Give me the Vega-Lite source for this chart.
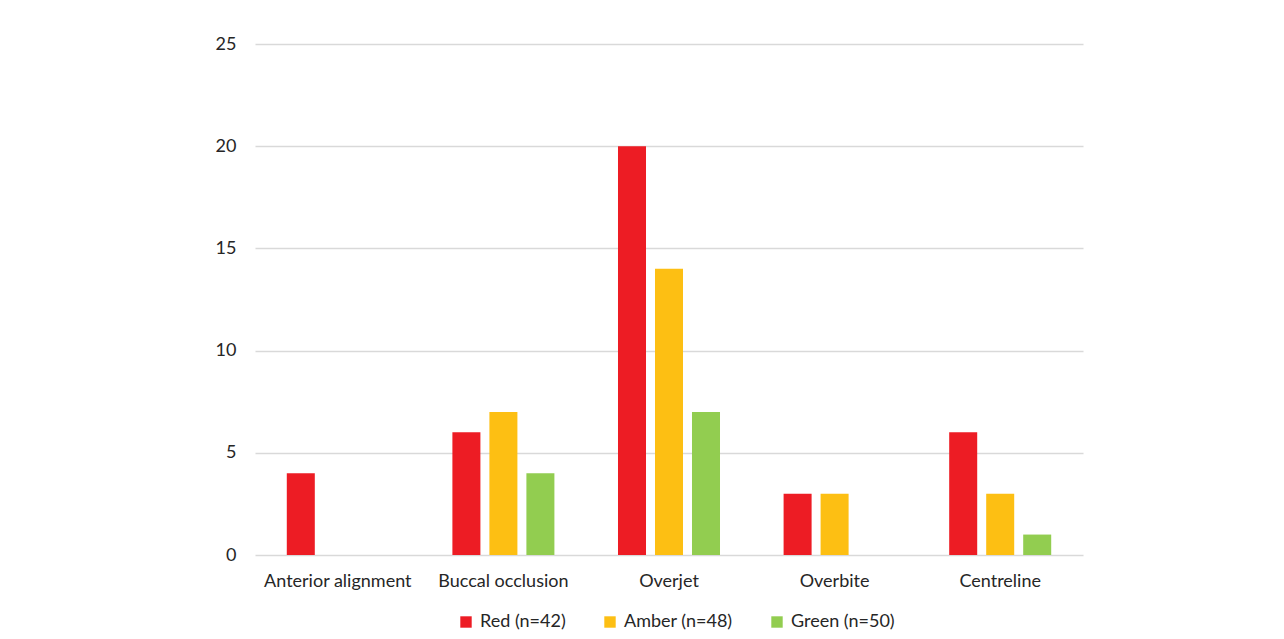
{
  "$schema": "https://vega.github.io/schema/vega-lite/v6.json",
  "width": 828,
  "height": 511,
  "autosize": {"type": "none"},
  "padding": {"left": 255, "top": 44, "right": 201, "bottom": 84},
  "background": "white",
  "config": {
    "view": {"stroke": null},
    "font": "Lato",
    "axis": {"labelFont": "Lato", "labelColor": "#262626", "labelFontSize": 18}
  },
  "data": {
    "values": [
      {"category": "Anterior alignment", "group": "Red (n=42)", "count": 4},
      {"category": "Anterior alignment", "group": "Amber (n=48)", "count": 0},
      {"category": "Anterior alignment", "group": "Green (n=50)", "count": 0},
      {"category": "Buccal occlusion", "group": "Red (n=42)", "count": 6},
      {"category": "Buccal occlusion", "group": "Amber (n=48)", "count": 7},
      {"category": "Buccal occlusion", "group": "Green (n=50)", "count": 4},
      {"category": "Overjet", "group": "Red (n=42)", "count": 20},
      {"category": "Overjet", "group": "Amber (n=48)", "count": 14},
      {"category": "Overjet", "group": "Green (n=50)", "count": 7},
      {"category": "Overbite", "group": "Red (n=42)", "count": 3},
      {"category": "Overbite", "group": "Amber (n=48)", "count": 3},
      {"category": "Overbite", "group": "Green (n=50)", "count": 0},
      {"category": "Centreline", "group": "Red (n=42)", "count": 6},
      {"category": "Centreline", "group": "Amber (n=48)", "count": 3},
      {"category": "Centreline", "group": "Green (n=50)", "count": 1}
    ]
  },
  "mark": {"type": "bar"},
  "encoding": {
    "x": {
      "field": "category",
      "type": "nominal",
      "sort": ["Anterior alignment", "Buccal occlusion", "Overjet", "Overbite", "Centreline"],
      "scale": {"paddingInner": 0.384, "paddingOuter": 0.192},
      "axis": {
        "title": null,
        "labelAngle": 0,
        "domain": false,
        "ticks": false,
        "labelPadding": 17
      }
    },
    "xOffset": {
      "field": "group",
      "type": "nominal",
      "sort": ["Red (n=42)", "Amber (n=48)", "Green (n=50)"],
      "scale": {"paddingInner": 0.243, "paddingOuter": 0}
    },
    "y": {
      "field": "count",
      "type": "quantitative",
      "scale": {"domain": [0, 25], "nice": false},
      "axis": {
        "title": null,
        "values": [0, 5, 10, 15, 20, 25],
        "domain": false,
        "ticks": false,
        "labelPadding": 19,
        "gridColor": "#d9d9d9",
        "gridWidth": 1.3
      }
    },
    "color": {
      "field": "group",
      "type": "nominal",
      "sort": ["Red (n=42)", "Amber (n=48)", "Green (n=50)"],
      "scale": {
        "domain": ["Red (n=42)", "Amber (n=48)", "Green (n=50)"],
        "range": ["#ED1C24", "#FDBF13", "#92CD50"]
      },
      "legend": {
        "title": null,
        "orient": "none",
        "direction": "horizontal",
        "legendX": 202,
        "legendY": 569,
        "symbolType": "square",
        "symbolSize": 130,
        "symbolStrokeWidth": 0,
        "labelFontSize": 18,
        "labelFont": "Lato",
        "labelColor": "#262626",
        "labelOffset": 5,
        "columnPadding": 35
      }
    }
  }
}
